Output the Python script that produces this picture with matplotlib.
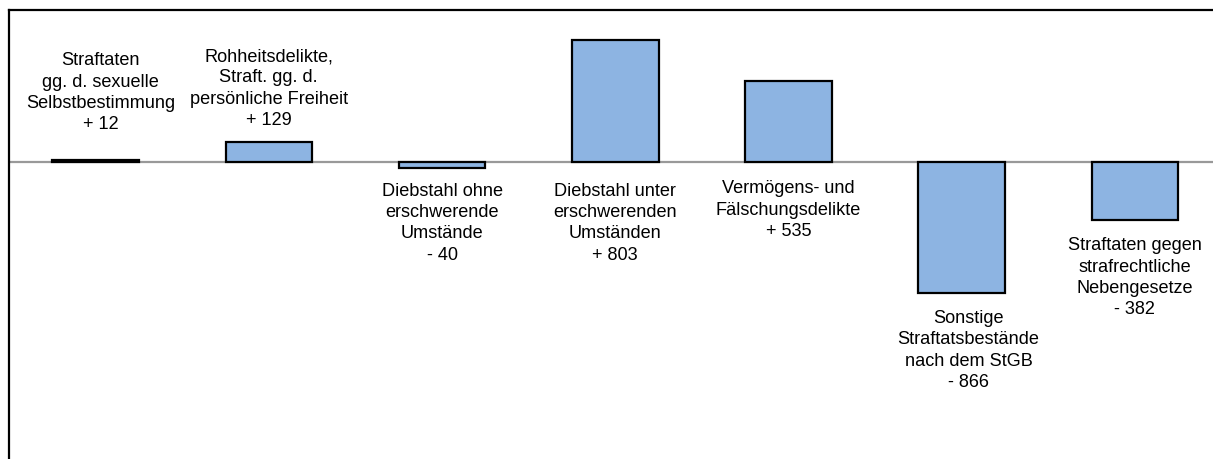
import matplotlib
matplotlib.use("Agg")
import matplotlib.pyplot as plt

categories = [
    "Straftaten\ngg. d. sexuelle\nSelbstbestimmung",
    "Rohheitsdelikte,\nStraft. gg. d.\npersönliche Freiheit",
    "Diebstahl ohne\nerschwerende\nUmstände",
    "Diebstahl unter\nerschwerenden\nUmständen",
    "Vermögens- und\nFälschungsdelikte",
    "Sonstige\nStraftatsbestände\nnach dem StGB",
    "Straftaten gegen\nstrafrechtliche\nNebengesetze",
]
values = [12, 129, -40, 803, 535, -866, -382]
value_labels = ["+ 12", "+ 129", "- 40", "+ 803", "+ 535", "- 866", "- 382"]

# label placement (layout only)
label_dx = [0.03, 0.0, 0.0, 0.0, 0.0, 0.04, 0.0]
label_y = [457, 484, -404, -404, -318, -1245, -764]

plt.rcParams['font.family'] = ['Liberation Sans', 'DejaVu Sans']

fig = plt.figure(figsize=(12.13, 4.59), dpi=100)
ax = fig.add_axes([9 / 1213, -6 / 459, 1212.4 / 1213, 454.5 / 459])
ax.set_xlim(-0.5, 6.5)
ax.set_ylim(-2000, 1000)

x = list(range(len(values)))
ax.bar(x, values, width=0.5, color="#8DB4E2", edgecolor="black", linewidth=1.6, zorder=2)
ax.axhline(0, color="#999999", linewidth=1.6, zorder=1)

for i in x:
    ax.text(i + label_dx[i], label_y[i], categories[i] + "\n" + value_labels[i],
            ha="center", va="center", fontsize=13.1, linespacing=1.34, color="black")

ax.set_xticks([])
ax.set_yticks([])
for s in ["right", "bottom"]:
    ax.spines[s].set_visible(False)
for s in ["left", "top"]:
    ax.spines[s].set_linewidth(1.6)
    ax.spines[s].set_color("black")

fig.savefig("out.png", dpi=100)
